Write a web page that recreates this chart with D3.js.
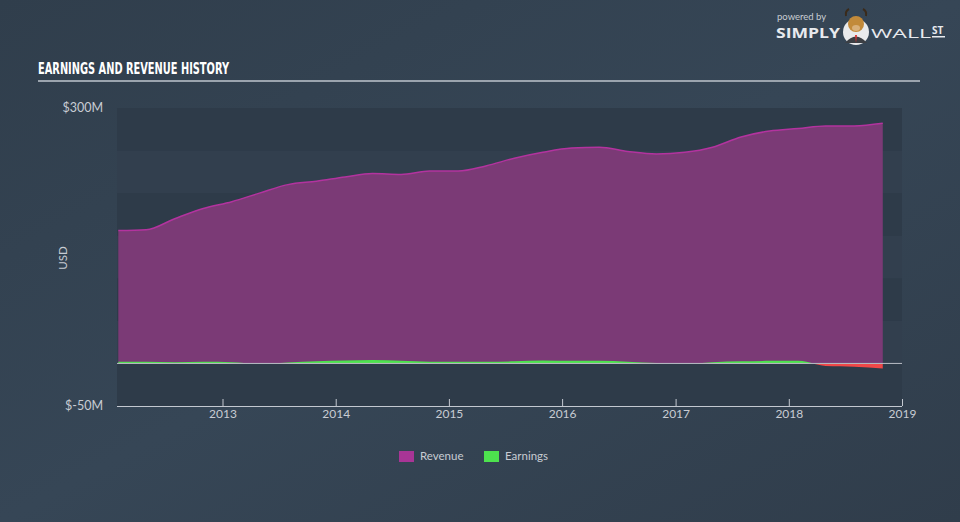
<!DOCTYPE html>
<html><head><meta charset="utf-8">
<script src="https://cdnjs.cloudflare.com/ajax/libs/d3/7.8.5/d3.min.js"></script>
<style>
html,body{margin:0;padding:0;background:#344453;}
svg{display:block;}
</style></head>
<body>
<svg id="c" width="960" height="522"></svg>
<script>
const dates = ["2012-01-31","2012-04-30","2012-07-31","2012-10-31","2013-01-31","2013-04-30","2013-07-31","2013-10-31","2014-01-31","2014-04-30","2014-07-31","2014-10-31","2015-01-31","2015-04-30","2015-07-31","2015-10-31","2016-01-31","2016-04-30","2016-07-31","2016-10-31","2017-01-31","2017-04-30","2017-07-31","2017-10-31","2018-01-31","2018-04-30","2018-07-31","2018-10-31"];
const revenue = [156,157,170,182,190,200,210,214,219,223,222,226,226,232,241,248,253,254,249,246,248,254,266,273,276,279,279,282];
const earnings = [2,2,1.5,2,1.5,-0.5,1,2.5,3.5,4,3,2,2,2,2.5,3.5,3,3,2,0.5,-0.5,1.5,2.5,3,3,-3,-4,-6];
const yTicks = [300,-50];
const xTickYears = [2013,2014,2015,2016,2017,2018,2019];
const seriesNames = ["Revenue","Earnings"];

const svg = d3.select("#c");
const defs = svg.append("defs");
const bg = defs.append("linearGradient").attr("id","bg").attr("x1","0").attr("y1","0").attr("x2","1").attr("y2","1");
bg.append("stop").attr("offset","0").attr("stop-color","#303e4c");
bg.append("stop").attr("offset","0.5").attr("stop-color","#364656");
bg.append("stop").attr("offset","1").attr("stop-color","#303d4b");
svg.append("rect").attr("width",960).attr("height",522).attr("fill","url(#bg)");

const parse = d3.timeParse("%Y-%m-%d");
const data = dates.map((d,i)=>({date:parse(d), rev:revenue[i], earn:earnings[i]}));

const L=117, R=902, T=108, B=406;
// 2012-01-01 -> 109, 2019-01-01 -> 902
const xs = d3.scaleTime().domain([new Date(2012,0,1), new Date(2019,0,1)]).range([109, R]);
const y = d3.scaleLinear().domain([-50,300]).range([B,T]);

// plot background bands
const g = svg.append("g");
g.append("rect").attr("x",L).attr("y",T).attr("width",R-L).attr("height",B-T).attr("fill","#313f4e");
const bands = d3.range(-50,300,50);
g.selectAll("rect.band").data(bands).enter().append("rect").attr("class","band")
  .attr("x",L).attr("width",R-L)
  .attr("y",d=>y(d+50)).attr("height",d=>y(d)-y(d+50))
  .attr("fill",(d,i)=> (i%2===0) ? "#2e3b49" : "#323f4e");

// revenue area
const areaRev = d3.area().x(d=>xs(d.date)).y0(y(0)).y1(d=>y(d.rev)).curve(d3.curveMonotoneX);
g.append("path").datum(data).attr("d",areaRev).attr("fill","#7b3a76");
g.append("path").datum(data).attr("d",d3.line().x(d=>xs(d.date)).y(d=>y(d.rev)).curve(d3.curveMonotoneX))
  .attr("fill","none").attr("stroke","#b3339f").attr("stroke-width",1.5);

// earnings area, split pos/neg with clip
const areaE = d3.area().x(d=>xs(d.date)).y0(y(0)).y1(d=>y(d.earn)).curve(d3.curveMonotoneX);
defs.append("clipPath").attr("id","pos").append("rect").attr("x",0).attr("y",0).attr("width",960).attr("height",y(0));
defs.append("clipPath").attr("id","neg").append("rect").attr("x",0).attr("y",y(0)).attr("width",960).attr("height",200);
g.append("path").datum(data).attr("d",areaE).attr("fill","#4de24e").attr("clip-path","url(#pos)");
g.append("path").datum(data).attr("d",areaE).attr("fill","#f04848").attr("clip-path","url(#neg)");

// zero line
g.append("line").attr("x1",L).attr("x2",R).attr("y1",y(0)).attr("y2",y(0)).attr("stroke","#b9bec6").attr("stroke-width",1);

// x axis
const xAxis = d3.axisBottom(xs).tickValues(xTickYears.map(yv=>new Date(yv,0,1))).tickFormat(d3.timeFormat("%Y")).tickSize(7).tickSizeOuter(0);
const ax = svg.append("g").attr("transform",`translate(0,${B})`).call(xAxis);
ax.select(".domain").attr("d",`M${L},0.5H${R}`).attr("stroke","#c3c8d0");
ax.selectAll(".tick line").attr("stroke","#c3c8d0").attr("y1",-7).attr("y2",0);
ax.selectAll(".tick text").attr("fill","#c8ccd3").attr("font-family","Lato, 'Open Sans', sans-serif").attr("font-size",12).attr("dy","0.2em").attr("y",10);

// y labels
svg.selectAll("text.ylab").data(yTicks).enter().append("text").attr("class","ylab")
  .attr("x",103).attr("y",d=>y(d)+4).attr("text-anchor","end")
  .attr("fill","#c8ccd3").attr("font-family","Lato, 'Open Sans', sans-serif").attr("font-size",12.5)
  .text(d=> d<0 ? `$-${Math.abs(d)}M` : `$${d}M`);
svg.append("text").attr("transform",`translate(67,258) rotate(-90)`).attr("text-anchor","middle")
  .attr("fill","#c8ccd3").attr("font-family","Lato, 'Open Sans', sans-serif").attr("font-size",11.5).text("USD");

// title
svg.append("text").attr("x",38).attr("y",74).attr("fill","#ffffff")
  .attr("font-family","'Liberation Sans Narrow','DejaVu Sans Condensed',sans-serif").attr("font-weight","bold")
  .attr("font-size",15.5).attr("textLength",191).attr("lengthAdjust","spacingAndGlyphs").text("EARNINGS AND REVENUE HISTORY");
svg.append("rect").attr("x",38).attr("y",80).attr("width",882).attr("height",2).attr("fill","#9ba4ae");

// legend
const legColors = ["#a83596","#4de24e"];
const legX = [399,484];
const lg = svg.append("g");
seriesNames.forEach((n,i)=>{
  lg.append("rect").attr("x",legX[i]).attr("y",451).attr("width",15).attr("height",11).attr("fill",legColors[i]);
  lg.append("text").attr("x",legX[i]+21).attr("y",460).attr("fill","#c8ccd3")
    .attr("font-family","Lato, 'Open Sans', sans-serif").attr("font-size",11.5).text(n);
});

// logo
const lo = svg.append("g");
lo.append("text").attr("x",777).attr("y",20).attr("fill","#c9cdd3").attr("font-family","Lato, sans-serif").attr("font-size",9.5).text("powered by");
lo.append("text").attr("x",776).attr("y",38).attr("fill","#e8eaee").attr("font-family","'Open Sans', sans-serif").attr("font-weight","bold").attr("font-size",13.5).attr("textLength",64).attr("lengthAdjust","spacingAndGlyphs").text("SIMPLY");
lo.append("circle").attr("cx",856).attr("cy",32).attr("r",13).attr("fill","#e9eaec");
lo.append("path").attr("d","M845,43 Q856,30 867,43 Z").attr("fill","#3c3f44");
lo.append("ellipse").attr("cx",856).attr("cy",24).attr("rx",8).attr("ry",8).attr("fill","#c28a3a");
lo.append("ellipse").attr("cx",856).attr("cy",28).attr("rx",4).attr("ry",3).attr("fill","#d9b07a");
lo.append("path").attr("d","M846,16 Q845,11 849,9 M866,16 Q867,11 863,9").attr("stroke","#3a2a1a").attr("stroke-width",2).attr("fill","none");
lo.append("path").attr("d","M855,35 L857,35 L856,43 Z").attr("fill","#d33");
lo.append("text").attr("x",871).attr("y",38).attr("fill","#e8eaee").attr("font-family","'Open Sans', sans-serif").attr("font-size",13.5).attr("textLength",60).attr("lengthAdjust","spacingAndGlyphs").text("WALL");
lo.append("text").attr("x",932).attr("y",34).attr("fill","#e8eaee").attr("font-family","'Open Sans', sans-serif").attr("font-weight","bold").attr("font-size",10).text("ST");
lo.append("rect").attr("x",932).attr("y",36).attr("width",13).attr("height",1.5).attr("fill","#e8eaee");
</script>
</body></html>
